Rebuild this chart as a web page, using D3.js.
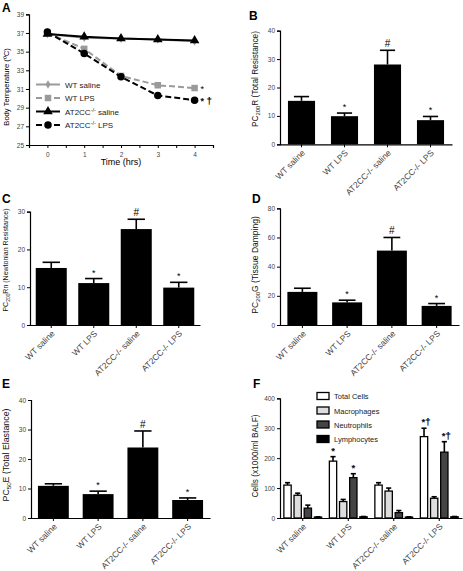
<!DOCTYPE html>
<html><head><meta charset="utf-8">
<script src="https://cdn.jsdelivr.net/npm/d3@7"></script>
<style>
body{margin:0;background:#fff;}
svg{display:block;font-family:"Liberation Sans",Arial,sans-serif;}
.tick text{fill:#444;}
</style></head><body>
<svg id="c" width="463" height="571"></svg>
<script>
// ---------- DATA ----------
const hours = [0,1,2,3,4];
const tempTicks = [25,27,29,31,33,35,37,39];
const tempWTsaline = [36.9,36.5,36.4,36.3,36.1];
const tempWTlps = [37.0,35.3,32.4,31.4,31.1];
const tempKOsaline = [36.9,36.6,36.4,36.3,36.2];
const tempKOlps = [37.1,34.8,32.3,30.3,29.8];

const groups = ["WT saline","WT LPS","AT2CC-/- saline","AT2CC-/- LPS"];
const rVals = [15.3,9.9,28.1,8.5];
const rErr  = [1.5,1.1,5.0,1.3];
const rnVals = [15.1,11.1,25.4,9.9];
const rnErr  = [1.5,1.2,2.6,1.4];
const gVals = [22.7,15.5,51.0,13.1];
const gErr  = [2.5,1.5,9.0,1.6];
const eVals = [10.9,8.1,23.9,6.1];
const eErr  = [0.7,1.0,5.6,0.7];
const sigMarks = ["","*","#","*"];

const cellTypes = ["Total Cells","Macrophages","Neutrophils","Lymphocytes"];
const cellTotal = [110,190,110,272];
const cellTotalErr = [8,15,8,28];
const cellMacro = [76,55,90,66];
const cellMacroErr = [7,7,10,5];
const cellNeut = [33,135,18,220];
const cellNeutErr = [10,13,7,35];
const cellLymph = [3,4,3,4];
const cellLymphErr = [1,1,1,1];
const cellMarksTotal = ["","*","","*†"];
const cellMarksNeut = ["","*","","*†"];

// ---------- DRAW ----------
const svg = d3.select("#c");
const FONT = "Liberation Sans, Arial, sans-serif";

function panelLabel(t,x,y){
  svg.append("text").attr("x",x).attr("y",y).attr("font-size",12).attr("font-weight","bold").text(t);
}
function styleAxis(g,fs){
  g.selectAll("path").attr("stroke","#000").attr("stroke-width",1.2);
  g.selectAll("line").attr("stroke","#000");
  g.selectAll("text").attr("font-size",fs).attr("font-family",FONT);
}
function yLabel(parts,x,y,fs){
  const t = svg.append("text").attr("transform",`translate(${x},${y}) rotate(-90)`)
    .attr("text-anchor","middle").attr("font-size",fs).attr("fill","#111");
  parts.forEach(p=>{
    if(p.sub){ t.append("tspan").attr("font-size",fs*0.7).attr("dy",2).text(p.t); }
    else { t.append("tspan").attr("dy",p.after?-2:0).text(p.t); }
  });
}
function markText(sel,str){
  sel.attr("fill","#000").attr("stroke","#000").attr("stroke-width",0.25);
  [...str].forEach(ch=>{ sel.append("tspan").text(ch); });
}
function rotateLabels(gx,fs){
  gx.selectAll("text").attr("font-size",fs).attr("text-anchor","end").attr("fill","#111")
    .attr("y",0).attr("dy","0.35em").attr("transform","translate(2,7) rotate(-45)");
}

// Panel A
(function(){
  const x = d3.scaleLinear().domain([-0.5,4.5]).range([29,213]);
  const y = d3.scaleLinear().domain([25,39]).range([145,14.3]);
  const gy = svg.append("g").attr("transform","translate(29,0)")
    .call(d3.axisLeft(y).tickValues(tempTicks).tickSize(3).tickPadding(2));
  styleAxis(gy,6.5);
  const gx = svg.append("g").attr("transform","translate(0,145)")
    .call(d3.axisBottom(x).tickValues(d3.range(-0.5,4.51,0.5)).tickSize(3).tickPadding(4)
      .tickFormat(d=>Number.isInteger(d)?d:""));
  styleAxis(gx,6.5);
  svg.append("text").attr("x",121).attr("y",165).attr("text-anchor","middle").attr("font-size",9).text("Time (hrs)");
  svg.append("text").attr("transform","translate(9,87) rotate(-90)").attr("text-anchor","middle")
    .attr("font-size",7.6).text("Body Temperature (ºC)");
  const series = [
    {v:tempWTsaline,c:"#9a9a9a",d:null,m:"diamond",s:22},
    {v:tempWTlps,c:"#9a9a9a",d:"6,3",m:"square",s:42},
    {v:tempKOsaline,c:"#000",d:null,m:"triangle",s:40},
    {v:tempKOlps,c:"#000",d:"6,3",m:"circle",s:44}
  ];
  const sym = {diamond:d3.symbolDiamond,square:d3.symbolSquare,triangle:d3.symbolTriangle,circle:d3.symbolCircle};
  const line = d3.line().x((d,i)=>x(hours[i])).y(d=>y(d));
  series.forEach(s=>{
    svg.append("path").attr("d",line(s.v)).attr("fill","none").attr("stroke",s.c).attr("stroke-width",2)
      .attr("stroke-dasharray",s.d);
    svg.selectAll(null).data(s.v).enter().append("path")
      .attr("transform",(d,i)=>`translate(${x(hours[i])},${y(d)})`)
      .attr("d",d3.symbol().type(sym[s.m]).size(s.s)).attr("fill",s.c);
  });
  svg.append("text").attr("x",x(4)+6).attr("y",y(tempWTlps[4])+4).attr("font-size",9).text("*");
  markText(svg.append("text").attr("x",x(4)+6).attr("y",y(tempKOlps[4])+4).attr("font-size",9), "* †");
  const legNames = ["WT saline","WT LPS","AT2CC","AT2CC"];
  const legRows = [84.5,98,111.5,125];
  series.forEach((s,i)=>{
    const yy = legRows[i];
    svg.append("line").attr("x1",36).attr("x2",60).attr("y1",yy).attr("y2",yy).attr("stroke",s.c)
      .attr("stroke-width",2).attr("stroke-dasharray",s.d);
    svg.append("path").attr("transform",`translate(48,${yy})`).attr("d",d3.symbol().type(sym[s.m]).size(s.s)).attr("fill",s.c);
    const t = svg.append("text").attr("x",65).attr("y",yy+3).attr("font-size",8).attr("fill","#222");
    if(i<2){ t.text(legNames[i]); }
    else {
      t.append("tspan").text("AT2CC");
      t.append("tspan").attr("font-size",5.5).attr("dy",-3).text("-/-");
      t.append("tspan").attr("dy",3).text(i===2?" saline":" LPS");
    }
  });
  panelLabel("A",2,12);
})();

// Bar panels
function barPanel(cfg){
  const x = d3.scaleBand().domain(groups).range([cfg.x0,cfg.x1]).paddingInner(cfg.pad).paddingOuter(cfg.pad/2);
  const y = d3.scaleLinear().domain([0,cfg.max]).range([cfg.yb,cfg.yt]);
  const gy = svg.append("g").attr("transform",`translate(${cfg.x0},0)`)
    .call(d3.axisLeft(y).tickValues(cfg.ticks).tickSize(3).tickPadding(2));
  styleAxis(gy,6.5);
  const gx = svg.append("g").attr("transform",`translate(0,${cfg.yb})`)
    .call(d3.axisBottom(x).tickSize(3).tickSizeOuter(0));
  styleAxis(gx,8.5);
  rotateLabels(gx,8.5);
  const bw = x.bandwidth();
  groups.forEach((gname,i)=>{
    const v = cfg.vals[i], e = cfg.err[i], cx = x(gname)+bw/2;
    svg.append("line").attr("x1",cx).attr("x2",cx).attr("y1",y(v)).attr("y2",y(v+e)).attr("stroke","#000").attr("stroke-width",1.6);
    svg.append("line").attr("x1",cx-bw*0.28).attr("x2",cx+bw*0.28).attr("y1",y(v+e)).attr("y2",y(v+e)).attr("stroke","#000").attr("stroke-width",1.6);
    svg.append("rect").attr("x",x(gname)).attr("width",bw).attr("y",y(v)).attr("height",y(0)-y(v)).attr("fill","#000");
    if(sigMarks[i]) svg.append("text").attr("x",cx).attr("y",y(v+e)-3).attr("text-anchor","middle")
      .attr("font-size",sigMarks[i]==="#"?10:9).text(sigMarks[i]);
  });
  yLabel(cfg.label,cfg.lx,cfg.ly,cfg.lfs||9);
  panelLabel(cfg.letter,cfg.px,cfg.py);
}
barPanel({x0:280,x1:452,yt:30.7,yb:144.3,max:40,ticks:[0,10,20,30,40],vals:rVals,err:rErr,pad:0.37,lfs:8.3,
  label:[{t:"PC"},{t:"200",sub:true},{t:"R (Total Resistance)",after:true}],lx:258,ly:79,letter:"B",px:249,py:20});
barPanel({x0:30,x1:200,yt:211.7,yb:325,max:30,ticks:[0,10,20,30],vals:rnVals,err:rnErr,pad:0.27,lfs:7,
  label:[{t:"PC"},{t:"200",sub:true},{t:"Rn (Newtonian Resistance)",after:true}],lx:8,ly:260,letter:"C",px:2,py:203});
barPanel({x0:280,x1:459,yt:208.3,yb:325,max:80,ticks:[0,20,40,60,80],vals:gVals,err:gErr,pad:0.33,lfs:8.5,
  label:[{t:"PC"},{t:"200",sub:true},{t:"G (Tissue Damping)",after:true}],lx:258,ly:265,letter:"D",px:252,py:203});
barPanel({x0:31,x1:210,yt:400,yb:518,max:40,ticks:[0,10,20,30,40],vals:eVals,err:eErr,pad:0.31,lfs:8.8,
  label:[{t:"PC"},{t:"50",sub:true},{t:"E (Total Elastance)",after:true}],lx:9,ly:455,letter:"E",px:2,py:388});

// Panel F
(function(){
  const x0=280,x1=462,yt=398.3,yb=518;
  const x = d3.scaleBand().domain(groups).range([x0,x1]).paddingInner(0.17).paddingOuter(0.085);
  const xi = d3.scaleBand().domain(cellTypes).range([0,x.bandwidth()]).paddingInner(0.28);
  const y = d3.scaleLinear().domain([0,400]).range([yb,yt]);
  const gy = svg.append("g").attr("transform",`translate(${x0},0)`)
    .call(d3.axisLeft(y).tickValues([0,100,200,300,400]).tickSize(3).tickPadding(2));
  styleAxis(gy,6.5);
  const gx = svg.append("g").attr("transform",`translate(0,${yb})`)
    .call(d3.axisBottom(x).tickSize(3).tickSizeOuter(0));
  styleAxis(gx,8.5);
  rotateLabels(gx,8.5);
  const fills = ["#fff","#ddd","#444","#000"];
  const vals = [cellTotal,cellMacro,cellNeut,cellLymph];
  const errs = [cellTotalErr,cellMacroErr,cellNeutErr,cellLymphErr];
  const marks = [cellMarksTotal,null,cellMarksNeut,null];
  groups.forEach((gname,gi)=>{
    cellTypes.forEach((c,ci)=>{
      const bx = x(gname)+xi(c), bw = xi.bandwidth(), v = vals[ci][gi], e = errs[ci][gi], cx = bx+bw/2;
      svg.append("line").attr("x1",cx).attr("x2",cx).attr("y1",y(v)).attr("y2",y(v+e)).attr("stroke","#000").attr("stroke-width",1.6);
      svg.append("line").attr("x1",cx-bw*0.35).attr("x2",cx+bw*0.35).attr("y1",y(v+e)).attr("y2",y(v+e)).attr("stroke","#000").attr("stroke-width",1.6);
      svg.append("rect").attr("x",bx).attr("width",bw).attr("y",y(v)).attr("height",y(0)-y(v))
        .attr("fill",fills[ci]).attr("stroke","#000").attr("stroke-width",1.3);
      if(marks[ci] && marks[ci][gi]) markText(svg.append("text").attr("x",cx+(marks[ci][gi].length>1?2:0)).attr("y",y(v+e)-3)
        .attr("text-anchor","middle").attr("font-size",9.5), marks[ci][gi]);
    });
  });
  const legY=[396,410.5,424.5,439];
  cellTypes.forEach((c,i)=>{
    svg.append("rect").attr("x",317).attr("y",legY[i]-3.5).attr("width",12).attr("height",7)
      .attr("fill",fills[i]).attr("stroke","#000").attr("stroke-width",1.3);
    svg.append("text").attr("x",334).attr("y",legY[i]+3).attr("font-size",7.5).attr("fill","#222").text(c);
  });
  svg.append("text").attr("transform","translate(258,456) rotate(-90)").attr("text-anchor","middle")
    .attr("font-size",8.3).attr("fill","#111").text("Cells (x1000/ml BALF)");
  panelLabel("F",253,388);
})();
</script></body></html>
